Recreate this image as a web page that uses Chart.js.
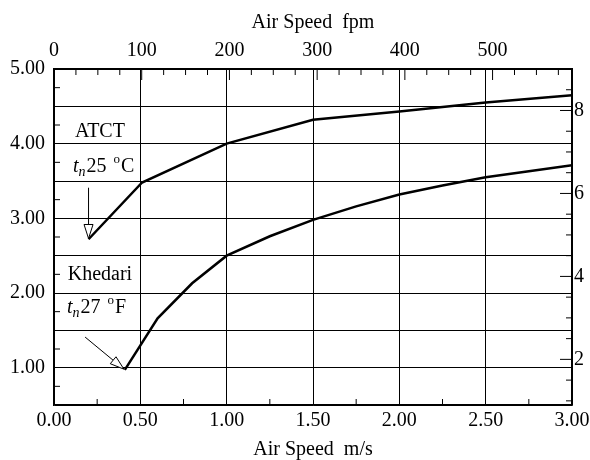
<!DOCTYPE html>
<html>
<head>
<meta charset="utf-8">
<script src="https://cdn.jsdelivr.net/npm/chart.js@4/dist/chart.umd.min.js"></script>
<style>
  html, body { margin: 0; background: #fff; }
</style>
</head>
<body>
<canvas id="airChart" width="590" height="460"></canvas>
<script>
// air speed (m/s) vs cooling effect (deg C)
const atctSpeed = [0.2, 0.51, 1.0, 1.5, 2.0, 2.5, 3.0];
const atctEffect = [2.72, 3.48, 4.0, 4.32, 4.43, 4.55, 4.65];
const khedariSpeed = [0.41, 0.6, 0.8, 1.0, 1.25, 1.5, 1.75, 2.0, 2.25, 2.5, 2.75, 3.0];
const khedariEffect = [0.97, 1.66, 2.13, 2.5, 2.76, 2.98, 3.16, 3.32, 3.44, 3.55, 3.63, 3.71];

const msTicks = [0, 0.5, 1, 1.5, 2, 2.5, 3];
const fpmTicks = [0, 100, 200, 300, 400, 500];
const degCTicks = [0.5, 1, 1.5, 2, 2.5, 3, 3.5, 4, 4.5, 5];
const degFTicks = [2, 4, 6, 8];

const FPM_PER_MS = 196.85;
const F_PER_C = 1.8;
const FONT = "'Liberation Serif', 'Times New Roman', serif";

Chart.defaults.font.family = FONT;
Chart.defaults.font.size = 20;
Chart.defaults.color = '#000';

const toPoints = (xs, ys) => xs.map((x, i) => ({ x: x, y: ys[i] }));
const setTicks = list => scale => { scale.ticks = list.map(v => ({ value: v })); };

const fixBox = (w, h) => scale => {
  if (w !== null) scale.width = w;
  if (h !== null) scale.height = h;
  scale.paddingLeft = 0; scale.paddingRight = 0;
  scale.paddingTop = 0; scale.paddingBottom = 0;
};

// labels drawn inside the plot: [x m/s, y degC, align]
const notes = [
  { text: 'ATCT', x: 0.266, y: 4.09, align: 'center' },
  { text: 'Khedari', x: 0.266, y: 2.18, align: 'center' }
];
const tnNotes = [
  { num: '25', unit: 'C', x: 0.11, y: 3.625 },
  { num: '27', unit: 'F', x: 0.075, y: 1.73 }
];
const arrows = [
  { from: [0.2, 3.41], to: [0.2, 2.73] },
  { from: [0.18, 1.41], to: [0.405, 0.98] }
];

function drawArrow(ctx, x1, y1, x2, y2) {
  const ang = Math.atan2(y2 - y1, x2 - x1);
  const len = 14, half = 4.5;
  const bx = x2 - len * Math.cos(ang), by = y2 - len * Math.sin(ang);
  ctx.beginPath();
  ctx.moveTo(x1, y1);
  ctx.lineTo(bx, by);
  ctx.stroke();
  ctx.beginPath();
  ctx.moveTo(x2, y2);
  ctx.lineTo(bx + half * Math.sin(ang), by - half * Math.cos(ang));
  ctx.lineTo(bx - half * Math.sin(ang), by + half * Math.cos(ang));
  ctx.closePath();
  ctx.fillStyle = '#fff';
  ctx.fill();
  ctx.stroke();
}

function drawTn(ctx, x, y, num, unit) {
  ctx.textAlign = 'left';
  ctx.textBaseline = 'alphabetic';
  ctx.fillStyle = '#000';
  ctx.font = 'italic 20px ' + FONT;
  ctx.fillText('t', x, y);
  x += ctx.measureText('t').width;
  ctx.font = 'italic 14px ' + FONT;
  ctx.fillText('n', x, y + 4);
  x += ctx.measureText('n').width + 1;
  ctx.font = '20px ' + FONT;
  ctx.fillText(num, x, y);
  x += ctx.measureText(num).width + 7;
  ctx.font = '13px ' + FONT;
  ctx.fillText('o', x, y - 9);
  x += ctx.measureText('o').width + 1;
  ctx.font = '20px ' + FONT;
  ctx.fillText(unit, x, y);
}

const extras = {
  id: 'extras',
  afterDraw(chart) {
    const { ctx, chartArea: a, scales } = chart;
    const sx = scales.x, sy = scales.y, st = scales.xTop, sr = scales.yRight;
    ctx.save();
    ctx.strokeStyle = '#000';
    ctx.lineWidth = 1;
    ctx.beginPath();
    for (let v = 0.25; v < 3; v += 0.5) {
      const px = sx.getPixelForValue(v);
      ctx.moveTo(px, a.bottom); ctx.lineTo(px, a.bottom - 6);
    }
    for (let v = 0.75; v < 5; v += 0.5) {
      const py = sy.getPixelForValue(v);
      ctx.moveTo(a.left, py); ctx.lineTo(a.left + 6, py);
    }
    for (let v = 25; v < 590; v += 25) {
      const px = st.getPixelForValue(v);
      const len = v % 100 === 0 ? 11 : 6;
      ctx.moveTo(px, a.top); ctx.lineTo(px, a.top + len);
    }
    for (let v = 1; v < 9; v += 0.5) {
      const py = sr.getPixelForValue(v);
      const len = v % 2 === 0 ? 12 : 6;
      ctx.moveTo(a.right, py); ctx.lineTo(a.right - len, py);
    }
    ctx.stroke();

    ctx.fillStyle = '#000';
    ctx.font = '20px ' + FONT;
    ctx.textBaseline = 'alphabetic';
    notes.forEach(n => {
      ctx.textAlign = n.align;
      ctx.fillText(n.text, sx.getPixelForValue(n.x), sy.getPixelForValue(n.y));
    });
    tnNotes.forEach(n => drawTn(ctx, sx.getPixelForValue(n.x), sy.getPixelForValue(n.y), n.num, n.unit));

    ctx.lineWidth = 1;
    arrows.forEach(ar => drawArrow(ctx,
      sx.getPixelForValue(ar.from[0]), sy.getPixelForValue(ar.from[1]),
      sx.getPixelForValue(ar.to[0]), sy.getPixelForValue(ar.to[1])));
    ctx.restore();
  }
};

const border = { display: true, color: '#000', width: 1.5 };

new Chart(document.getElementById('airChart'), {
  type: 'scatter',
  data: {
    datasets: [
      {
        label: 'ATCT',
        data: toPoints(atctSpeed, atctEffect),
        showLine: true, borderColor: '#000', borderWidth: 2.5,
        pointRadius: 0, tension: 0, xAxisID: 'x', yAxisID: 'y'
      },
      {
        label: 'Khedari',
        data: toPoints(khedariSpeed, khedariEffect),
        showLine: true, borderColor: '#000', borderWidth: 2.5,
        pointRadius: 0, tension: 0, xAxisID: 'x', yAxisID: 'y'
      }
    ]
  },
  options: {
    responsive: false,
    animation: false,
    layout: { padding: 0 },
    plugins: { legend: { display: false }, tooltip: { enabled: false } },
    scales: {
      x: {
        type: 'linear', position: 'bottom', min: 0, max: 3,
        afterBuildTicks: setTicks(msTicks),
        afterFit: fixBox(null, 55),
        ticks: { autoSkip: false, maxRotation: 0, padding: 4, callback: v => v.toFixed(2) },
        grid: { color: '#000', lineWidth: 1, drawTicks: false },
        border: border,
        title: { display: true, text: 'Air Speed  m/s', font: { lineHeight: 1 }, padding: { top: 0, bottom: 0 } }
      },
      xTop: {
        type: 'linear', position: 'top', min: 0, max: 3 * FPM_PER_MS,
        afterBuildTicks: setTicks(fpmTicks),
        afterFit: fixBox(null, 69),
        ticks: { autoSkip: false, maxRotation: 0, padding: 6, callback: v => String(v) },
        grid: { display: false, drawTicks: false },
        border: border,
        title: { display: true, text: 'Air Speed  fpm', padding: { top: 11, bottom: 0 } }
      },
      y: {
        type: 'linear', position: 'left', min: 0.5, max: 5,
        afterBuildTicks: setTicks(degCTicks),
        afterFit: fixBox(54, null),
        ticks: { autoSkip: false, padding: 9, callback: v => Number.isInteger(v) ? v.toFixed(2) : '' },
        grid: { color: '#000', lineWidth: 1, drawTicks: false },
        border: border
      },
      yRight: {
        type: 'linear', position: 'right', min: 0.5 * F_PER_C, max: 5 * F_PER_C,
        afterBuildTicks: setTicks(degFTicks),
        afterFit: fixBox(18, null),
        ticks: { autoSkip: false, padding: 2, callback: v => String(v) },
        grid: { display: false, drawTicks: false },
        border: border
      }
    }
  },
  plugins: [extras]
});
</script>
</body>
</html>
